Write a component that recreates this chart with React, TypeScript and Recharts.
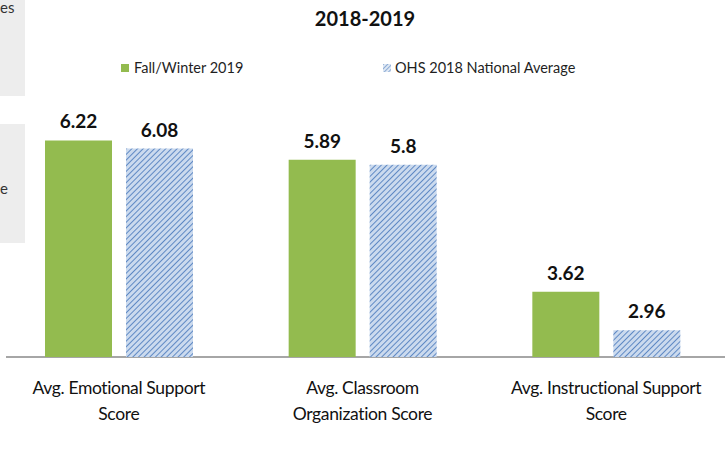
import { Bar, BarChart, XAxis, YAxis, LabelList } from "recharts"

const categories = [
    ["Avg. Emotional Support", "Score"],
    ["Avg. Classroom", "Organization Score"],
    ["Avg. Instructional Support", "Score"],
]
const fallWinter2019 = [6.22, 5.89, 3.62]
const ohsNational2018 = [6.08, 5.8, 2.96]
const seriesNames = ["Fall/Winter 2019", "OHS 2018 National Average"]
const yDomain = [2.5, 7]

const chartData = categories.map((lines, i) => ({
    name: lines.join(" "),
    fall: fallWinter2019[i],
    ohs: ohsNational2018[i],
}))

const FONT = "Lato, 'Open Sans', sans-serif"

function CategoryTick(props: any) {
    const { x, y, payload } = props
    const idx = chartData.findIndex(d => d.name === payload.value)
    const lines = categories[idx] || [payload.value]
    return (
        <text x={x} y={y} textAnchor="middle" fontFamily={FONT} fontSize={17.5} letterSpacing={-0.35} fill="#111">
            {lines.map((l, i) => (
                <tspan key={i} x={x} dy={i === 0 ? 29 : 26}>{l}</tspan>
            ))}
        </text>
    )
}

export default function App() {
    return (
        <div style={{ position: "absolute", left: 0, top: 0, width: 725, height: 449, overflow: "hidden", background: "#fff", fontFamily: FONT }}>
            {/* fragments of neighbouring slide */}
            <div style={{ position: "absolute", left: 0, top: 0, width: 25, height: 96, background: "#ededed" }}>
                <span style={{ position: "absolute", left: 0, top: 0, fontSize: 15, lineHeight: "15px", color: "#333" }}>es</span>
            </div>
            <div style={{ position: "absolute", left: 0, top: 124, width: 25, height: 119, background: "#ededed" }}>
                <span style={{ position: "absolute", left: 0, top: 56, fontSize: 15, lineHeight: "16px", color: "#333" }}>e</span>
            </div>

            <div style={{ position: "absolute", left: 0, top: 6, width: 730, textAlign: "center", fontSize: 20, fontWeight: 700, color: "#111" }}>
                2018-2019
            </div>

            <div style={{ position: "absolute", left: 121, top: 59, display: "flex", alignItems: "center", fontSize: 14.5, color: "#1f1f1f" }}>
                <span style={{ width: 8, height: 8, background: "#93bb4f", marginRight: 5 }} />
                {seriesNames[0]}
            </div>
            <div style={{ position: "absolute", left: 383, top: 59, display: "flex", alignItems: "center", fontSize: 14.5, color: "#1f1f1f" }}>
                <svg width={8} height={8} style={{ marginRight: 4 }}>
                    <rect width={8} height={8} fill="url(#hatchIcon)" />
                    <defs>
                        <pattern id="hatchIcon" patternUnits="userSpaceOnUse" width={3} height={3} patternTransform="rotate(45)">
                            <rect width={3} height={3} fill="#dfe8f4" />
                            <line x1={0} y1={0} x2={0} y2={3} stroke="#6a92c8" strokeWidth={1.4} />
                        </pattern>
                    </defs>
                </svg>
                {seriesNames[1]}
            </div>

            <div style={{ position: "absolute", left: 6, top: 356, width: 719, height: 1.5, background: "#a6a6a6" }} />

            <div style={{ position: "absolute", left: -3, top: 0 }}>
                <BarChart
                    width={731}
                    height={449}
                    data={chartData}
                    margin={{ top: 95, right: 0, left: 0, bottom: 0 }}
                    barGap={14}
                    barCategoryGap="19%"
                >
                    <defs>
                        <pattern id="hatch" patternUnits="userSpaceOnUse" width={4} height={4} patternTransform="rotate(45)">
                            <rect width={4} height={4} fill="#cbdaee" />
                            <line x1={0} y1={0} x2={0} y2={4} stroke="#5f89c4" strokeWidth={2} />
                        </pattern>
                    </defs>
                    <XAxis
                        dataKey="name"
                        height={92}
                        axisLine={false}
                        tickLine={false}
                        interval={0}
                        tick={<CategoryTick />}
                    />
                    <YAxis hide domain={yDomain} allowDataOverflow />
                    <Bar dataKey="fall" name={seriesNames[0]} fill="#93bb4f" barSize={67} isAnimationActive={false}>
                        <LabelList dataKey="fall" position="top" offset={12} fontFamily={FONT} fontSize={19} fontWeight={700} fill="#111" />
                    </Bar>
                    <Bar dataKey="ohs" name={seriesNames[1]} fill="url(#hatch)" barSize={67} isAnimationActive={false}>
                        <LabelList dataKey="ohs" position="top" offset={12} fontFamily={FONT} fontSize={19} fontWeight={700} fill="#111" />
                    </Bar>
                </BarChart>
            </div>
        </div>
    )
}
